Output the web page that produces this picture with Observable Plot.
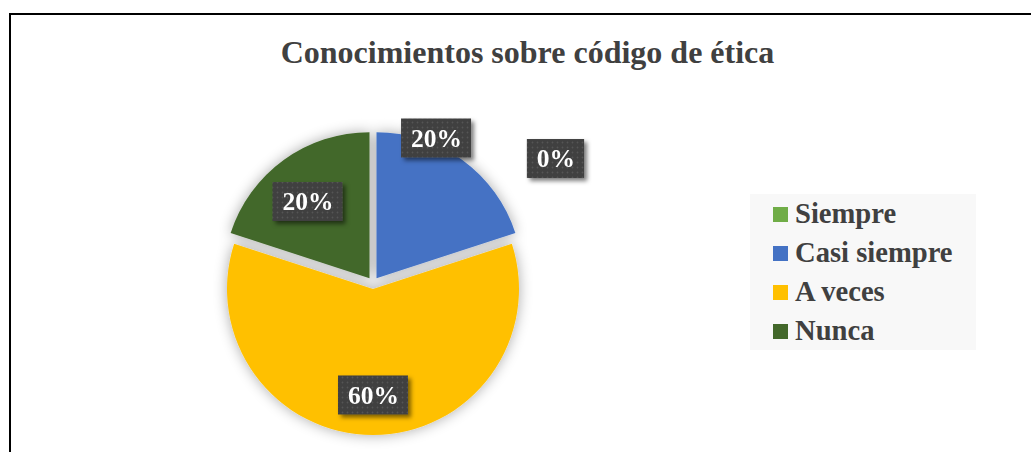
<!DOCTYPE html>
<html>
<head>
<meta charset="utf-8">
<script src="https://cdn.jsdelivr.net/npm/d3@7"></script>
<script src="https://cdn.jsdelivr.net/npm/@observablehq/plot@0.6"></script>
<style>
  html, body { margin: 0; padding: 0; background: #fff; }
  #wrap { position: relative; width: 1031px; height: 452px; overflow: hidden;
          font-family: "Liberation Serif", "Times New Roman", serif; }
  #frame { position: absolute; left: 9px; top: 13px; width: 1100px; height: 500px;
           border-left: 2px solid #000; border-top: 2px solid #000; box-sizing: border-box; }
  #chart { position: absolute; left: 0; top: 0; }
  #title { position: absolute; left: 11px; width: 1033px; top: 36px; line-height: 32px;
           text-align: center; font-weight: bold; font-size: 32px; color: #404040; white-space: nowrap; }
  #legend { position: absolute; left: 750px; top: 194px; width: 226px; height: 156px;
            background: #f8f8f8; box-sizing: border-box; padding-left: 23px; }
  .row { display: flex; align-items: center; height: 39px; font-size: 28.6px; font-weight: bold;
         color: #404040; white-space: nowrap; }
  .sw { width: 15px; height: 15px; margin-right: 7px; position: relative; top: 1px; flex: none; }
</style>
</head>
<body>
<div id="wrap">
  <div id="frame"></div>
  <div id="chart"></div>
  <div id="title"></div>
  <div id="legend"></div>
</div>
<script>
// ---- data ----
const chartTitle = "Conocimientos sobre código de ética";
const categories = ["Siempre", "Casi siempre", "A veces", "Nunca"];
const percents = [0, 20, 60, 20];
const colors = ["#70AD47", "#4472C4", "#FFC000", "#43682B"];

// ---- layout (not data) ----
const W = 1031, H = 452;
const centerPx = [373, 283], radiusPx = 146;
const explode = 0.041;                       // in radius units
// label placement: [angle from 12 o'clock (deg, clockwise), distance in radius units]
const labelPlacement = [[55.7, 1.513], [23.5, 1.083], [180, 0.767], [321.2, 0.716]];
const labelFont = "bold 25.5px 'Liberation Serif'";

const colorScale = Plot.scale({color: {type: "ordinal", domain: categories, range: colors}});

const rows = categories.map((c, i) => ({category: c, value: percents[i]}));
const labelRows = categories.map((c, i) => {
  const a = labelPlacement[i][0] * Math.PI / 180, r = labelPlacement[i][1];
  return {category: c, text: percents[i] + "%", u: r * Math.sin(a), v: -r * Math.cos(a)};
});

function pieMark(index, scales) {
  const {x, y} = scales;
  const R = x(1) - x(0);
  const g = d3.create("svg:g");
  const defs = g.append("defs");
  const f = defs.append("filter").attr("id", "pieShadow")
    .attr("x", "-30%").attr("y", "-30%").attr("width", "160%").attr("height", "160%");
  f.append("feGaussianBlur").attr("in", "SourceAlpha").attr("stdDeviation", 7).attr("result", "b");
  f.append("feComponentTransfer").attr("in", "b").attr("result", "s")
    .append("feFuncA").attr("type", "linear").attr("slope", 0.34);
  const m = f.append("feMerge");
  m.append("feMergeNode").attr("in", "s");
  m.append("feMergeNode").attr("in", "SourceGraphic");
  const arcs = d3.pie().sort(null).value(d => d.value)(rows);
  const arc = d3.arc().innerRadius(0).outerRadius(R);
  const pg = g.append("g").attr("filter", "url(#pieShadow)");
  for (const a of arcs) {
    if (a.data.value <= 0) continue;
    const mid = (a.startAngle + a.endAngle) / 2;
    const tx = x(explode * Math.sin(mid)), ty = y(-explode * Math.cos(mid));
    pg.append("path")
      .attr("d", arc(a))
      .attr("transform", `translate(${tx},${ty})`)
      .attr("fill", colorScale.apply(a.data.category));
  }
  return g.node();
}

function labelBoxes(index, scales) {
  const {x, y} = scales;
  const ctx = document.createElement("canvas").getContext("2d");
  ctx.font = labelFont;
  const g = d3.create("svg:g");
  const defs = g.append("defs");
  const pat = defs.append("pattern").attr("id", "dots")
    .attr("width", 5).attr("height", 5).attr("patternUnits", "userSpaceOnUse");
  pat.append("rect").attr("width", 5).attr("height", 5).attr("fill", "#404040");
  pat.append("circle").attr("cx", 2.5).attr("cy", 2.5).attr("r", 0.9).attr("fill", "#555555");
  const f = defs.append("filter").attr("id", "boxShadow")
    .attr("x", "-30%").attr("y", "-30%").attr("width", "170%").attr("height", "170%");
  f.append("feDropShadow").attr("dx", 3).attr("dy", 3).attr("stdDeviation", 2.2)
    .attr("flood-color", "#000").attr("flood-opacity", 0.5);
  for (const d of labelRows) {
    const w = ctx.measureText(d.text).width + 19, h = 39;
    g.append("rect")
      .attr("x", x(d.u) - w / 2).attr("y", y(d.v) - h / 2)
      .attr("width", w).attr("height", h)
      .attr("fill", "url(#dots)").attr("filter", "url(#boxShadow)");
  }
  return g.node();
}

const plot = Plot.plot({
  width: W, height: H,
  marginTop: 0, marginRight: 0, marginBottom: 0, marginLeft: 0,
  style: {background: "transparent", overflow: "visible"},
  x: {domain: [-centerPx[0] / radiusPx, (W - centerPx[0]) / radiusPx], range: [0, W], axis: null},
  y: {domain: [-centerPx[1] / radiusPx, (H - centerPx[1]) / radiusPx], range: [0, H], axis: null},
  marks: [
    pieMark,
    labelBoxes,
    Plot.text(labelRows, {
      x: "u", y: "v", text: "text", fill: "white",
      fontSize: 25.5, fontWeight: "bold", fontFamily: "Liberation Serif"
    })
  ]
});
document.getElementById("chart").appendChild(plot);
document.getElementById("title").textContent = chartTitle;

const legend = d3.select("#legend");
categories.forEach(c => {
  const row = legend.append("div").attr("class", "row");
  row.append("div").attr("class", "sw").style("background", colorScale.apply(c));
  row.append("span").text(c);
});
</script>
</body>
</html>
